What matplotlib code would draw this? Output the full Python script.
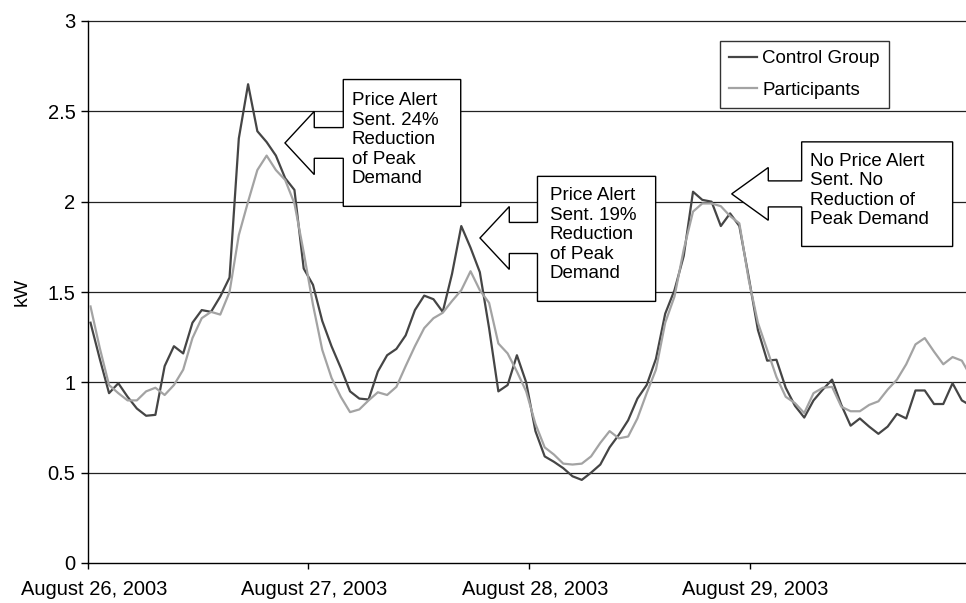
import matplotlib
matplotlib.use("Agg")
import matplotlib.pyplot as plt
from matplotlib.patches import Polygon
from matplotlib.transforms import ScaledTranslation
import numpy as np

# hourly load, Aug 26 - Aug 29 2003 (kW)
control_group = [
    1.33, 1.13, 0.94, 0.995, 0.92, 0.855, 0.815, 0.82, 1.09, 1.20,
    1.16, 1.33, 1.40, 1.39, 1.475, 1.58, 2.35, 2.65, 2.39, 2.33,
    2.255, 2.13, 2.065, 1.63, 1.54, 1.34, 1.20, 1.08, 0.95, 0.91,
    0.905, 1.06, 1.15, 1.185, 1.26, 1.40, 1.48, 1.46, 1.39, 1.60,
    1.865, 1.745, 1.61, 1.30, 0.95, 0.985, 1.15, 1.00, 0.73, 0.59,
    0.56, 0.525, 0.48, 0.46, 0.50, 0.545, 0.64, 0.71, 0.79, 0.91,
    0.985, 1.13, 1.38, 1.51, 1.70, 2.055, 2.01, 2.00, 1.865, 1.935,
    1.865, 1.585, 1.29, 1.12, 1.125, 0.97, 0.87, 0.805, 0.90, 0.96,
    1.015, 0.875, 0.76, 0.80, 0.755, 0.715, 0.755, 0.825, 0.80, 0.955,
    0.955, 0.88, 0.88, 0.995, 0.90, 0.87]

participants = [
    1.42, 1.19, 0.985, 0.94, 0.90, 0.90, 0.95, 0.97, 0.93, 0.985,
    1.07, 1.245, 1.355, 1.39, 1.375, 1.50, 1.815, 2.00, 2.175, 2.255,
    2.175, 2.12, 1.99, 1.72, 1.43, 1.18, 1.025, 0.92, 0.835, 0.85,
    0.90, 0.945, 0.93, 0.975, 1.09, 1.20, 1.30, 1.355, 1.385, 1.45,
    1.51, 1.615, 1.51, 1.44, 1.215, 1.16, 1.06, 0.95, 0.77, 0.64,
    0.60, 0.55, 0.545, 0.55, 0.59, 0.665, 0.73, 0.69, 0.70, 0.80,
    0.94, 1.07, 1.33, 1.475, 1.735, 1.945, 1.99, 1.99, 1.975, 1.92,
    1.88, 1.57, 1.33, 1.18, 1.03, 0.92, 0.885, 0.83, 0.94, 0.97,
    0.975, 0.865, 0.84, 0.84, 0.875, 0.895, 0.96, 1.015, 1.10, 1.21,
    1.245, 1.17, 1.10, 1.14, 1.12, 1.03]

day_labels = ["August 26, 2003", "August 27, 2003", "August 28, 2003", "August 29, 2003"]
day_ticks = [-0.27, 23.5, 47.3, 71.1]
y_ticks = [0, 0.5, 1, 1.5, 2, 2.5, 3]

notes = [
    "Price Alert\nSent. 24%\nReduction\nof Peak\nDemand",
    "Price Alert\nSent. 19%\nReduction\nof Peak\nDemand",
    "No Price Alert\nSent. No\nReduction of\nPeak Demand",
]

plt.rcParams["font.family"] = ["Liberation Sans", "DejaVu Sans"]
FS = 13.5


def arrow_callout(ax, tip, head_x, box, head_hh, shaft_hh, text, pad, text_y):
    """left pointing arrow callout, box=(x0, x1, bottom, top)"""
    tx, ty = tip
    x0, x1, yb, yt = box
    pts = [(x0, yt), (x1, yt), (x1, yb), (x0, yb),
           (x0, ty - shaft_hh), (head_x, ty - shaft_hh), (head_x, ty - head_hh),
           (tx, ty),
           (head_x, ty + head_hh), (head_x, ty + shaft_hh), (x0, ty + shaft_hh)]
    ax.add_patch(Polygon(pts, closed=True, facecolor="white", edgecolor="black",
                         linewidth=1.0, joinstyle="miter", zorder=5))
    ax.text(x0 + pad, text_y, text, ha="left", va="center", fontsize=FS,
            linespacing=1.2, zorder=6)


fig = plt.figure(figsize=(9.66, 6.03), dpi=100)
ax = fig.add_axes([88 / 966, 40 / 603, 878 / 966, 542 / 603])

hours = np.arange(len(control_group))
ax.plot(hours, control_group, color="#454545", lw=1.6, label="Control Group", zorder=3)
ax.plot(hours, participants, color="#a3a3a3", lw=1.6, label="Participants", zorder=3)

ax.set_xlim(-0.27, 94.45)
ax.set_ylim(0, 3)
ax.set_yticks(y_ticks)
ax.set_yticklabels(["%g" % v for v in y_ticks], fontsize=14.5)
ax.set_xticks(day_ticks)
ax.set_xticklabels(day_labels, fontsize=14.5)
ax.tick_params(axis="y", length=5, width=1, pad=4, color="black")
ax.tick_params(axis="x", length=4, width=1, pad=8, color="black")
for lab in ax.get_xticklabels():
    lab.set_transform(lab.get_transform() + ScaledTranslation(0.06, 0, fig.dpi_scale_trans))

for v in y_ticks[1:]:
    ax.axhline(v, color="#222222", lw=0.9, zorder=1, clip_on=False)

for s in ["top", "right"]:
    ax.spines[s].set_visible(False)
ax.spines["left"].set_linewidth(1.0)
ax.spines["bottom"].set_linewidth(1.0)

ax.set_ylabel("kW", fontsize=14, labelpad=12)

leg = ax.legend(loc="upper left", bbox_to_anchor=(0.7198, 0.9631), borderaxespad=0,
                fontsize=FS, frameon=True, fancybox=False, handlelength=1.45,
                handletextpad=0.3, labelspacing=0.75, borderpad=0.5)
leg.get_frame().set_edgecolor("black")
leg.get_frame().set_linewidth(1.0)
leg.set_zorder(6)

arrow_callout(ax, (20.98, 2.325), 24.14, (27.27, 39.94, 1.974, 2.676),
              0.175, 0.085, notes[0], 0.9, 2.343)
arrow_callout(ax, (42.02, 1.799), 45.18, (48.22, 60.97, 1.448, 2.140),
              0.174, 0.086, notes[1], 1.3, 1.817)
arrow_callout(ax, (69.17, 2.043), 73.12, (76.72, 93.01, 1.752, 2.331),
              0.146, 0.072, notes[2], 0.9, 2.062)

fig.savefig("out.png", dpi=100)
